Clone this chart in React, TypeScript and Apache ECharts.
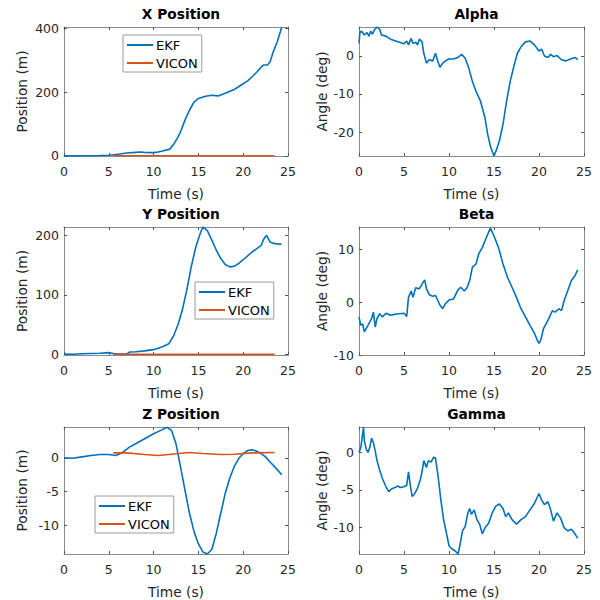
import React, { useEffect, useRef } from 'react';
import * as echarts from 'echarts';

// ---------- data ----------
const TIME_TICKS = [0, 5, 10, 15, 20, 25];

const X_T = [0, 1, 2, 3, 4, 5, 6, 7, 8, 8.5, 9, 10, 10.5, 11, 11.8, 12.3, 12.7, 13, 13.5, 14, 14.5, 15, 15.8, 16.5, 17.2, 18, 19, 20, 20.5, 21, 21.5, 22, 22.3, 22.7, 23, 23.3, 23.8, 24.3];
const X_EKF = [0, 0, 0.3, 0.5, 1, 2, 5, 9, 11, 12, 11, 10, 12, 15, 21, 39, 58, 75, 112, 143, 168, 180, 187, 190, 188, 196, 208, 226, 235, 248, 262, 278, 285, 285, 295, 322, 358, 403];
const X_VICON_T = [5.5, 10, 15, 20, 23.5];
const X_VICON = [0.5, 0.5, 0.5, 0.5, 0.5];
const X_TICKS = [0, 200, 400];

const Y_T = [0, 1, 2, 3, 4, 5, 5.5, 6, 7, 7.3, 8, 9, 10, 11, 11.7, 12.2, 12.7, 13.2, 13.7, 14.2, 14.7, 15.2, 15.5, 16, 16.5, 17, 17.5, 18, 18.5, 19, 19.5, 20, 21, 22, 22.3, 22.6, 23, 23.5, 24.3];
const Y_EKF = [0.5, 0.3, 1, 1.5, 2, 3, 1.5, 0.5, 0.5, 4, 4.5, 6, 8, 13, 18, 30, 49, 74, 108, 147, 180, 203, 214, 208, 192, 175, 161, 151, 147, 148, 153, 159, 172, 183, 194, 200, 189, 186, 185];
const Y_VICON_T = [5.5, 10, 15, 20, 23.5];
const Y_VICON = [0.3, 0.3, 0.3, 0.3, 0.3];
const Y_TICKS = [0, 100, 200];

const Z_T = [0, 1, 2, 3, 4, 5, 5.8, 6.5, 7.3, 8, 9, 10, 10.8, 11.5, 12, 12.5, 13, 13.5, 14, 14.5, 15, 15.5, 16, 16.5, 17, 17.5, 18, 18.5, 19, 19.5, 20, 20.5, 21, 21.5, 22, 22.5, 23, 23.5, 24.3];
const Z_EKF = [0, -0.05, 0.15, 0.35, 0.5, 0.5, 0.35, 0.8, 1.6, 2.1, 2.85, 3.6, 4.1, 4.55, 4.1, 2.1, -1.3, -4.8, -8.2, -10.9, -12.8, -14, -14.3, -13.6, -11.2, -8.2, -5.25, -3.0, -1.3, -0.1, 0.65, 1.1, 1.2, 1.0, 0.65, 0.15, -0.6, -1.3, -2.5];
const Z_VICON_T = [5.5, 7, 9, 10.5, 12, 14, 15.5, 17.5, 19, 21, 23.5];
const Z_VICON = [0.75, 0.75, 0.5, 0.35, 0.55, 0.8, 0.65, 0.5, 0.55, 0.75, 0.8];
const Z_TICKS = [-10, -5, 0];

const A_T = [0, 0.1, 0.3, 0.6, 0.9, 1.1, 1.3, 1.5, 1.7, 2, 2.3, 2.5, 3, 3.5, 4, 4.5, 5, 5.3, 5.5, 5.8, 6, 6.3, 6.5, 6.7, 7, 7.2, 7.5, 7.8, 8.2, 8.5, 8.7, 9, 9.3, 9.6, 10, 10.5, 11, 11.4, 11.8, 12.2, 12.6, 13, 13.5, 14, 14.3, 14.6, 15, 15.3, 15.6, 16, 16.4, 16.8, 17.2, 17.6, 18, 18.5, 19, 19.5, 20, 20.3, 20.6, 21, 21.3, 21.6, 22, 22.5, 23, 23.5, 24, 24.3];
const ALPHA = [3.3, 6.3, 6.5, 5.5, 6.1, 5.2, 6.5, 5.7, 6.8, 7.6, 7.0, 5.5, 5.2, 4.4, 4.0, 3.6, 3.2, 3.9, 2.9, 4.6, 3.3, 3.6, 2.9, 4.4, 3.7, 0.7, -1.9, -1.0, -1.3, 0.7, -1.0, -3.0, -1.9, -1.3, -0.8, -0.8, -0.4, 0.4, -0.6, -3.2, -6.7, -9.3, -11.9, -16.3, -20.6, -23.7, -26.3, -24.5, -22.3, -18, -11.9, -6.7, -2.8, 0.7, 2.4, 3.7, 3.9, 2.9, 1.3, 1.8, 0, -0.4, 0.4, -0.2, 0.1, -1.0, -1.3, -0.8, -0.4, -1.0];
const ALPHA_TICKS = [-20, -10, 0];

const B_T = [0, 0.2, 0.4, 0.6, 0.8, 1, 1.2, 1.4, 1.6, 1.8, 2, 2.3, 2.6, 3, 3.5, 4, 4.5, 5, 5.3, 5.5, 5.8, 6, 6.3, 6.7, 7, 7.3, 7.5, 7.8, 8.2, 8.5, 9, 9.3, 9.6, 10, 10.5, 11, 11.3, 11.7, 12, 12.3, 12.6, 13, 13.3, 13.7, 14, 14.3, 14.6, 15, 15.5, 16, 16.5, 17, 17.5, 18, 18.5, 19, 19.5, 19.8, 20, 20.2, 20.5, 21, 21.5, 21.8, 22.2, 22.5, 22.8, 23.2, 23.6, 24, 24.3];
const BETA = [-2.8, -4.4, -4.1, -5.6, -5, -4.4, -3.75, -3.1, -1.9, -4.7, -3.1, -2.2, -2.8, -2.1, -2.5, -2.3, -2.2, -2.1, -2.7, 0.9, 2.1, 0.9, 2.7, 2.5, 3.4, 4.2, 2.5, 1.4, 1.1, 1.25, -0.6, -1.25, -0.3, 0.4, 0.6, 2.3, 2.8, 2.1, 2.7, 4.1, 6.6, 7.2, 9.1, 10.3, 11.6, 12.8, 14.0, 12.5, 10.3, 7.2, 4.7, 2.8, 0.9, -1.25, -2.8, -4.4, -5.9, -7.2, -7.8, -7.2, -5, -3.4, -1.6, -1.9, -1.25, -1.6, 0.3, 2.2, 4.1, 5, 6.1];
const BETA_TICKS = [-10, 0, 10];

const G_T = [0, 0.2, 0.4, 0.5, 0.6, 0.8, 1, 1.2, 1.4, 1.6, 1.8, 2, 2.3, 2.6, 3, 3.3, 3.6, 4, 4.3, 4.6, 5, 5.3, 5.5, 5.7, 5.9, 6.2, 6.5, 6.8, 7, 7.2, 7.5, 7.7, 8, 8.3, 8.5, 8.8, 9.1, 9.4, 9.7, 10, 10.3, 10.7, 11, 11.2, 11.5, 11.8, 12.1, 12.3, 12.5, 12.8, 13.1, 13.4, 13.7, 14, 14.4, 14.8, 15.2, 15.6, 16, 16.3, 16.6, 17, 17.5, 18, 18.5, 19, 19.5, 20, 20.3, 20.6, 21, 21.3, 21.6, 22, 22.4, 22.8, 23.2, 23.6, 24, 24.3];
const GAMMA = [0, 0.65, 2.4, 3.4, 1.5, 0.45, 0, 0.65, 1.9, 1.3, 0.2, -1.1, -2.4, -3.5, -4.6, -5.25, -4.9, -4.7, -4.5, -4.7, -4.6, -4.4, -2.6, -4.4, -5.9, -5.5, -4.8, -3.7, -2.6, -1.1, -2.0, -1.1, -1.3, -0.65, -0.75, -3.3, -6.4, -9, -10.7, -12.5, -12.9, -13.2, -13.6, -12.5, -10.5, -9.9, -8.1, -7.5, -8.3, -7.7, -9, -9.6, -10.9, -10.1, -9.5, -8.1, -7.2, -6.9, -7.5, -8.6, -8.1, -9, -9.6, -9, -8.6, -7.7, -6.8, -5.5, -6.4, -7.0, -6.6, -7.7, -9.2, -8.1, -8.8, -10.1, -10.5, -10.3, -10.9, -11.5];
const GAMMA_TICKS = [-10, -5, 0];

const TITLES = ['X Position', 'Alpha', 'Y Position', 'Beta', 'Z Position', 'Gamma'];
const Y_NAMES = ['Position (m)', 'Angle (deg)', 'Position (m)', 'Angle (deg)', 'Position (m)', 'Angle (deg)'];
const SERIES_NAMES = ['EKF', 'VICON'];

// ---------- layout / style ----------
const FONT = "'DejaVu Sans', sans-serif";
const TEXT = '#262626';
const AXIS = '#8a8a8a';
const BLUE = '#0072BD';
const ORANGE = '#D95319';
const COL_LEFT = [64, 359];
const COL_W = [224, 225];
const ROW_TOP = [27, 227, 427];
const ROW_H = [129, 128, 128];

const zip = (t: number[], v: number[]) => t.map((x, i) => [x, v[i]]);

const PANELS = [
  { ekf: zip(X_T, X_EKF), vicon: zip(X_VICON_T, X_VICON), min: -0.5, max: 404, ticks: X_TICKS },
  { ekf: zip(A_T, ALPHA), vicon: null, min: -26.3, max: 7.6, ticks: ALPHA_TICKS },
  { ekf: zip(Y_T, Y_EKF), vicon: zip(Y_VICON_T, Y_VICON), min: -1, max: 214, ticks: Y_TICKS },
  { ekf: zip(B_T, BETA), vicon: null, min: -10, max: 14.2, ticks: BETA_TICKS },
  { ekf: zip(Z_T, Z_EKF), vicon: zip(Z_VICON_T, Z_VICON), min: -14.3, max: 4.6, ticks: Z_TICKS },
  { ekf: zip(G_T, GAMMA), vicon: null, min: -13.6, max: 3.4, ticks: GAMMA_TICKS },
];

function buildOption() {
  const grid: any[] = [];
  const xPrim: any[] = [];
  const xSec: any[] = [];
  const yPrim: any[] = [];
  const ySec: any[] = [];
  const title: any[] = [];
  const series: any[] = [];

  PANELS.forEach((p, i) => {
    const row = Math.floor(i / 2);
    const col = i % 2;
    grid.push({ left: COL_LEFT[col], top: ROW_TOP[row], width: COL_W[col], height: ROW_H[row], containLabel: false });
    title.push({
      text: TITLES[i],
      left: COL_LEFT[col] + COL_W[col] / 2,
      top: ROW_TOP[row] - 25,
      textAlign: 'center',
      textStyle: { fontSize: 13.75, fontWeight: 'bold', color: '#000', fontFamily: FONT },
    });
    const tick = { show: true, inside: true, length: 3, lineStyle: { color: '#555', width: 1 } };
    const line = { show: true, onZero: false, lineStyle: { color: AXIS, width: 1 } };
    const xBase = { type: 'value', gridIndex: i, min: 0, max: 25, interval: 5, splitLine: { show: false } };
    xPrim.push({
      ...xBase,
      position: 'bottom',
      axisLine: line,
      axisTick: { ...tick, customValues: TIME_TICKS },
      axisLabel: { margin: 9, color: TEXT, fontSize: 12.5, fontFamily: FONT, customValues: TIME_TICKS },
      name: 'Time (s)',
      nameLocation: 'middle',
      nameGap: 31,
      nameTextStyle: { color: TEXT, fontSize: 13.75, fontFamily: FONT },
    });
    xSec.push({
      ...xBase,
      position: 'top',
      axisLine: line,
      axisTick: { ...tick, customValues: TIME_TICKS },
      axisLabel: { show: false },
    });
    const yBase = { type: 'value', gridIndex: i, min: p.min, max: p.max, splitLine: { show: false } };
    yPrim.push({
      ...yBase,
      position: 'left',
      axisLine: line,
      axisTick: { ...tick, customValues: p.ticks },
      axisLabel: { margin: 5, color: TEXT, fontSize: 12.5, fontFamily: FONT, customValues: p.ticks },
      name: Y_NAMES[i],
      nameLocation: 'middle',
      nameGap: col === 0 ? 35 : 30,
      nameTextStyle: { color: TEXT, fontSize: 13.75, fontFamily: FONT },
    });
    ySec.push({
      ...yBase,
      position: 'right',
      axisLine: line,
      axisTick: { ...tick, customValues: p.ticks },
      axisLabel: { show: false },
    });
    series.push({
      name: SERIES_NAMES[0],
      type: 'line',
      xAxisIndex: i,
      yAxisIndex: i,
      data: p.ekf,
      showSymbol: false,
      symbol: 'none',
      lineStyle: { color: BLUE, width: 1.6 },
      itemStyle: { color: BLUE },
    });
    if (p.vicon) {
      series.push({
        name: SERIES_NAMES[1],
        type: 'line',
        xAxisIndex: i,
        yAxisIndex: i,
        data: p.vicon,
        showSymbol: false,
        symbol: 'none',
        lineStyle: { color: ORANGE, width: 1.6 },
        itemStyle: { color: ORANGE },
      });
    }
  });

  const legendBase = {
    data: SERIES_NAMES,
    orient: 'vertical',
    selectedMode: false,
    icon: 'rect',
    itemWidth: 26,
    itemHeight: 2,
    itemGap: 4,
    padding: [3, 4, 2, 4],
    backgroundColor: '#fff',
    borderColor: '#9a9a9a',
    borderWidth: 1,
    borderRadius: 0,
    textStyle: { color: '#000', fontSize: 13, fontFamily: FONT, padding: [0, 0, 0, -2], lineHeight: 14 },
  };

  return {
    animation: false,
    backgroundColor: '#fff',
    title,
    grid,
    xAxis: [...xPrim, ...xSec],
    yAxis: [...yPrim, ...ySec],
    legend: [
      { ...legendBase, left: 123, top: 35 },
      { ...legendBase, left: 195, top: 282 },
      { ...legendBase, left: 95, top: 496 },
    ],
    series,
  };
}

export default function App() {
  const ref = useRef<HTMLDivElement>(null);
  useEffect(() => {
    if (!ref.current) return;
    const chart = echarts.init(ref.current, undefined, { renderer: 'svg' });
    chart.setOption(buildOption() as any);
    return () => chart.dispose();
  }, []);
  return <div ref={ref} style={{ position: 'absolute', left: 0, top: 0, width: 600, height: 600 }} />;
}
